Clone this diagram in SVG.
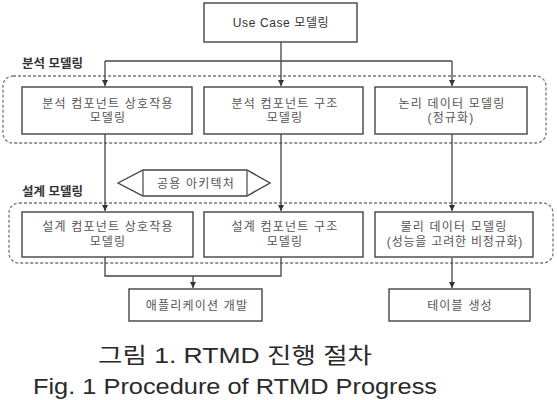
<svg xmlns="http://www.w3.org/2000/svg" width="557" height="400" viewBox="0 0 557 400">
<style>
.bg{fill:#ffffff}
.box{fill:#ffffff;stroke:#444;stroke-width:1.4}
.grp{fill:none;stroke:#777;stroke-width:1.3;stroke-dasharray:3 2}
.t{font-family:"Liberation Sans","Noto Sans CJK KR",sans-serif;font-size:12px;letter-spacing:1.2px;fill:#555;text-anchor:middle}
.lbl{font-family:"Liberation Sans","Noto Sans CJK KR",sans-serif;font-size:12.5px;font-weight:bold;fill:#333}
.conn{fill:none;stroke:#444;stroke-width:1.3}
.cap{font-family:"Liberation Sans","Noto Sans CJK KR",sans-serif;font-size:22px;fill:#2a2a2a}
</style>
<defs>
<marker id="ah" markerWidth="7" markerHeight="7" refX="6" refY="3" orient="auto" markerUnits="userSpaceOnUse">
<path d="M0,0 L6,3 L0,6 z" fill="#333"/>
</marker>
</defs>
<rect class="bg" x="0" y="0" width="557" height="400"/>

<g id="group-analysis">
<rect class="grp" x="3" y="76" width="543" height="67" rx="10"/>
<text class="lbl" x="22" y="68">분석 모델링</text>
</g>
<g id="group-design">
<rect class="grp" x="9" y="203" width="544" height="60" rx="10"/>
<text class="lbl" x="22" y="196">설계 모델링</text>
</g>

<g id="connectors">
<path class="conn" d="M281,42 V86" marker-end="url(#ah)"/>
<path class="conn" d="M105,61 H452"/>
<path class="conn" d="M105,61 V86" marker-end="url(#ah)"/>
<path class="conn" d="M452,61 V86" marker-end="url(#ah)"/>
<path class="conn" d="M105,134 V211" marker-end="url(#ah)"/>
<path class="conn" d="M281,134 V211" marker-end="url(#ah)"/>
<path class="conn" d="M452,134 V211" marker-end="url(#ah)"/>
<path class="conn" d="M105,257 V276 H281 V257"/>
<path class="conn" d="M193,276 V288" marker-end="url(#ah)"/>
<path class="conn" d="M452,258 V288" marker-end="url(#ah)"/>
</g>

<g id="n-usecase">
<rect class="box" x="204" y="3" width="153" height="39"/>
<text class="t" x="281" y="27" style="fill:#333;letter-spacing:0.6px">Use Case 모델링</text>
</g>

<g id="n-a1">
<rect class="box" x="22" y="87" width="170" height="47"/>
<text class="t" x="108" y="107.5">분석 컴포넌트 상호작용</text>
<text class="t" x="108" y="121.5">모델링</text>
</g>
<g id="n-a2">
<rect class="box" x="204" y="87" width="159" height="47"/>
<text class="t" x="285" y="107.5">분석 컴포넌트 구조</text>
<text class="t" x="285" y="121.5">모델링</text>
</g>
<g id="n-a3">
<rect class="box" x="375" y="87" width="152" height="47"/>
<text class="t" x="452" y="107.5">논리 데이터 모델링</text>
<text class="t" x="451" y="121.5">(정규화)</text>
</g>

<g id="n-common">
<polygon class="box" points="118,183 143,170 247,170 270,183 247,196 143,196"/>
<path class="conn" d="M143,170 V196 M247,170 V196" style="stroke:#555"/>
<text class="t" x="196" y="188">공용 아키텍처</text>
</g>

<g id="n-d1">
<rect class="box" x="22" y="212" width="171" height="45"/>
<text class="t" x="108" y="231">설계 컴포넌트 상호작용</text>
<text class="t" x="108" y="246">모델링</text>
</g>
<g id="n-d2">
<rect class="box" x="204" y="212" width="159" height="45"/>
<text class="t" x="285" y="231">설계 컴포넌트 구조</text>
<text class="t" x="285" y="246">모델링</text>
</g>
<g id="n-d3">
<rect class="box" x="375" y="212" width="158" height="45"/>
<text class="t" x="454" y="231">물리 데이터 모델링</text>
<text class="t" x="455" y="246" style="letter-spacing:0.8px">(성능을 고려한 비정규화)</text>
</g>

<g id="n-app">
<rect class="box" x="129" y="289" width="133" height="32"/>
<text class="t" x="197" y="310">애플리케이션 개발</text>
</g>
<g id="n-table">
<rect class="box" x="389" y="289" width="141" height="32"/>
<text class="t" x="460" y="310">테이블 생성</text>
</g>

<text class="cap" x="98" y="363" textLength="274" lengthAdjust="spacingAndGlyphs">그림 1. RTMD 진행 절차</text>
<text class="cap" x="33" y="394" textLength="404" lengthAdjust="spacingAndGlyphs">Fig. 1 Procedure of RTMD Progress</text>
</svg>
